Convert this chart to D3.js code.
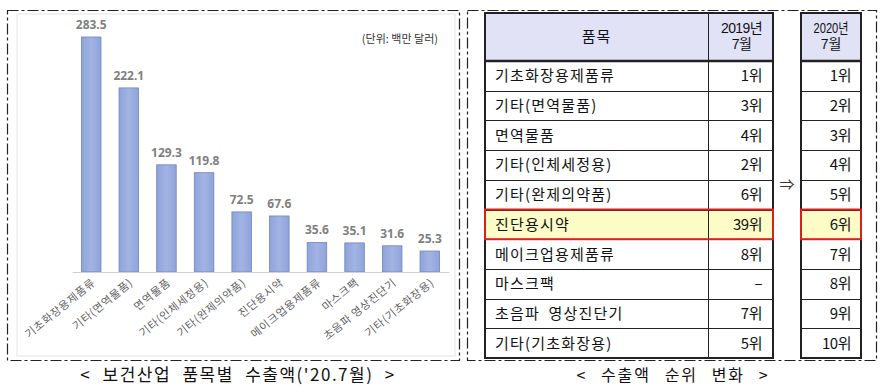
<!DOCTYPE html>
<html><head><meta charset="utf-8">
<script src="https://cdn.jsdelivr.net/npm/d3@7"></script>
<style>
html,body{margin:0;padding:0;background:#fff;}
svg{display:block;font-family:"Noto Sans CJK KR","Noto Sans",sans-serif;}
</style></head>
<body>
<script>
const categories = ["기초화장용제품류","기타(면역물품)","면역물품","기타(인체세정용)","기타(완제의약품)","진단용시약","메이크업용제품류","마스크팩","초음파 영상진단기","기타(기초화장용)"];
const values = [283.5,222.1,129.3,119.8,72.5,67.6,35.6,35.1,31.6,25.3];
const rank2019 = ["1위","3위","4위","2위","6위","39위","8위","–","7위","5위"];
const rank2020 = ["1위","2위","3위","4위","5위","6위","7위","8위","9위","10위"];
const highlightItem = "진단용시약";
const unitLabel = "(단위: 백만 달러)";
const chartCaption = "< 보건산업 품목별 수출액('20.7월) >";
const tableCaption = "< 수출액 순위 변화 >";
const headerItem = "품목";
const header2019 = ["2019년","7월"];
const header2020 = ["2020년","7월"];

const W = 889, H = 392;
const svg = d3.select("body").append("svg").attr("width", W).attr("height", H);

// ---------- left panel ----------
svg.append("rect").attr("x",17).attr("y",14).attr("width",438).attr("height",342)
  .attr("fill","none").attr("stroke","#e3e3e3").attr("stroke-width",1);
svg.append("rect").attr("x",7.5).attr("y",10.5).attr("width",452).attr("height",350)
  .attr("fill","none").attr("stroke","#222").attr("stroke-width",1.2).attr("stroke-dasharray","11 3 3 3");

const x = d3.scaleBand().domain(categories).range([72,449]).paddingInner(0.48).paddingOuter(0.25);
const y = d3.scaleLinear().domain([0,283.5]).range([272,37]);

const defs = svg.append("defs");
const grad = defs.append("linearGradient").attr("id","barg").attr("x1","0").attr("x2","1").attr("y1","0").attr("y2","0");
grad.append("stop").attr("offset","0%").attr("stop-color","#8ea3d9");
grad.append("stop").attr("offset","50%").attr("stop-color","#a2b4e4");
grad.append("stop").attr("offset","100%").attr("stop-color","#8ea3d9");

const g = svg.append("g");
g.selectAll("rect.bar").data(values).join("rect").attr("class","bar")
  .attr("x",(d,i)=>x(categories[i])).attr("width",x.bandwidth())
  .attr("y",d=>y(d)).attr("height",d=>y(0)-y(d))
  .attr("fill","url(#barg)").attr("stroke","#6f86c2").attr("stroke-width",0.8);

// baseline axis
const xAxis = d3.axisBottom(x).tickSize(0).tickFormat("");
const ax = g.append("g").attr("transform",`translate(0,${y(0)})`).call(xAxis);
ax.select(".domain").attr("stroke","#d0d0d0").attr("stroke-width",1);

g.selectAll("text.val").data(values).join("text").attr("class","val")
  .attr("x",(d,i)=>x(categories[i])+x.bandwidth()/2).attr("y",d=>y(d)-8)
  .attr("text-anchor","middle").attr("font-family","'Noto Sans',sans-serif")
  .attr("font-weight","bold").attr("font-size",12).attr("fill","#808080")
  .text(d=>d.toFixed(1));

g.selectAll("text.xl").data(categories).join("text").attr("class","xl")
  .attr("transform",(d)=>`translate(${x(d)+x.bandwidth()/2+5},${y(0)+12}) rotate(-39)`)
  .attr("text-anchor","end").attr("font-size",11).attr("letter-spacing",0.7).attr("fill","#606060")
  .text(d=>d);

svg.append("text").attr("x",438).attr("y",43).attr("text-anchor","end")
  .attr("font-size",11).attr("fill","#333").text(unitLabel);

svg.append("text").attr("x",238).attr("y",381).attr("text-anchor","middle")
  .attr("font-size",17).attr("letter-spacing",1.5).attr("word-spacing",6).attr("fill","#111").text(chartCaption);

// ---------- right panel ----------
svg.append("rect").attr("x",467.5).attr("y",10.5).attr("width",409).attr("height",350)
  .attr("fill","none").attr("stroke","#222").attr("stroke-width",1.2).attr("stroke-dasharray","11 3 3 3");

const rowY = d3.scaleBand().domain(d3.range(categories.length)).range([61,358]);
const t1 = {x0:485, xm:708, x1:773};
const t2 = {x0:801, x1:861};
const headTop = 13, headBot = 61;

// header fills
svg.append("rect").attr("x",t1.x0).attr("y",headTop).attr("width",t1.x1-t1.x0).attr("height",headBot-headTop).attr("fill","#e2e2f7");
svg.append("rect").attr("x",t2.x0).attr("y",headTop).attr("width",t2.x1-t2.x0).attr("height",headBot-headTop).attr("fill","#e2e2f7");

// highlight rows fill
const hi = categories.indexOf(highlightItem);
svg.append("rect").attr("x",t1.x0).attr("y",rowY(hi)).attr("width",t1.x1-t1.x0).attr("height",rowY.bandwidth()).attr("fill","#fdfbc6");
svg.append("rect").attr("x",t2.x0).attr("y",rowY(hi)).attr("width",t2.x1-t2.x0).attr("height",rowY.bandwidth()).attr("fill","#fdfbc6");

// row lines
const lines = svg.append("g").attr("stroke","#222");
categories.forEach((c,i)=>{
  if(i===0) return;
  const yy = Math.round(rowY(i))+0.5;
  lines.append("line").attr("x1",t1.x0).attr("x2",t1.x1).attr("y1",yy).attr("y2",yy).attr("stroke-width",1);
  lines.append("line").attr("x1",t2.x0).attr("x2",t2.x1).attr("y1",yy).attr("y2",yy).attr("stroke-width",1);
});
// header bottom thick
lines.append("line").attr("x1",t1.x0).attr("x2",t1.x1).attr("y1",headBot).attr("y2",headBot).attr("stroke-width",2.5);
lines.append("line").attr("x1",t2.x0).attr("x2",t2.x1).attr("y1",headBot).attr("y2",headBot).attr("stroke-width",2.5);
// column divider
lines.append("line").attr("x1",t1.xm+0.5).attr("x2",t1.xm+0.5).attr("y1",headTop).attr("y2",358).attr("stroke-width",1);
// outer borders
svg.append("rect").attr("x",t1.x0).attr("y",headTop).attr("width",t1.x1-t1.x0).attr("height",358-headTop)
  .attr("fill","none").attr("stroke","#222").attr("stroke-width",2);
svg.append("rect").attr("x",t2.x0).attr("y",headTop).attr("width",t2.x1-t2.x0).attr("height",358-headTop)
  .attr("fill","none").attr("stroke","#222").attr("stroke-width",2);

// highlight red borders
svg.append("rect").attr("x",t1.x0).attr("y",rowY(hi)).attr("width",t1.x1-t1.x0).attr("height",rowY.bandwidth())
  .attr("fill","none").attr("stroke","#d9201f").attr("stroke-width",2);
svg.append("rect").attr("x",t2.x0).attr("y",rowY(hi)).attr("width",t2.x1-t2.x0).attr("height",rowY.bandwidth())
  .attr("fill","none").attr("stroke","#d9201f").attr("stroke-width",2);

// header text
svg.append("text").attr("x",(t1.x0+t1.xm)/2).attr("y",42).attr("text-anchor","middle")
  .attr("font-size",15).attr("letter-spacing",1).attr("fill","#111").text(headerItem);

const hdrFont = "'Liberation Sans','Noto Sans CJK KR',sans-serif";
header2019.forEach((t,i)=>{
  svg.append("text").attr("x",(t1.xm+t1.x1)/2+1).attr("y",33+i*16).attr("text-anchor","middle")
    .attr("font-family",hdrFont).attr("font-size",14).attr("letter-spacing",-0.6).attr("fill","#111").text(t);
});
header2020.forEach((t,i)=>{
  const tx = svg.append("text").attr("x",(t2.x0+t2.x1)/2).attr("y",33+i*16).attr("text-anchor","middle")
    .attr("font-family",hdrFont).attr("font-size",14).attr("fill","#111").text(t);
  if(i===0) tx.attr("textLength",35).attr("lengthAdjust","spacingAndGlyphs");
});

// body text
const body = svg.append("g").attr("font-size",15).attr("fill","#111");
categories.forEach((c,i)=>{
  const cy = rowY(i)+rowY.bandwidth()/2+5.5;
  body.append("text").attr("x",495).attr("y",cy).attr("letter-spacing",1.2).attr("word-spacing",4).text(c);
  body.append("text").attr("x",762).attr("y",cy).attr("text-anchor","end").attr("letter-spacing",-0.5).text(rank2019[i]);
  body.append("text").attr("x",851).attr("y",cy).attr("text-anchor","end").attr("letter-spacing",-0.5).text(rank2020[i]);
});

// arrow
svg.append("text").attr("x",787).attr("y",190).attr("text-anchor","middle")
  .attr("font-size",15).attr("fill","#333").text("⇒");

svg.append("text").attr("x",673).attr("y",381).attr("text-anchor","middle")
  .attr("font-size",16).attr("letter-spacing",2).attr("word-spacing",8).attr("fill","#111").text(tableCaption);
</script>
</body></html>
